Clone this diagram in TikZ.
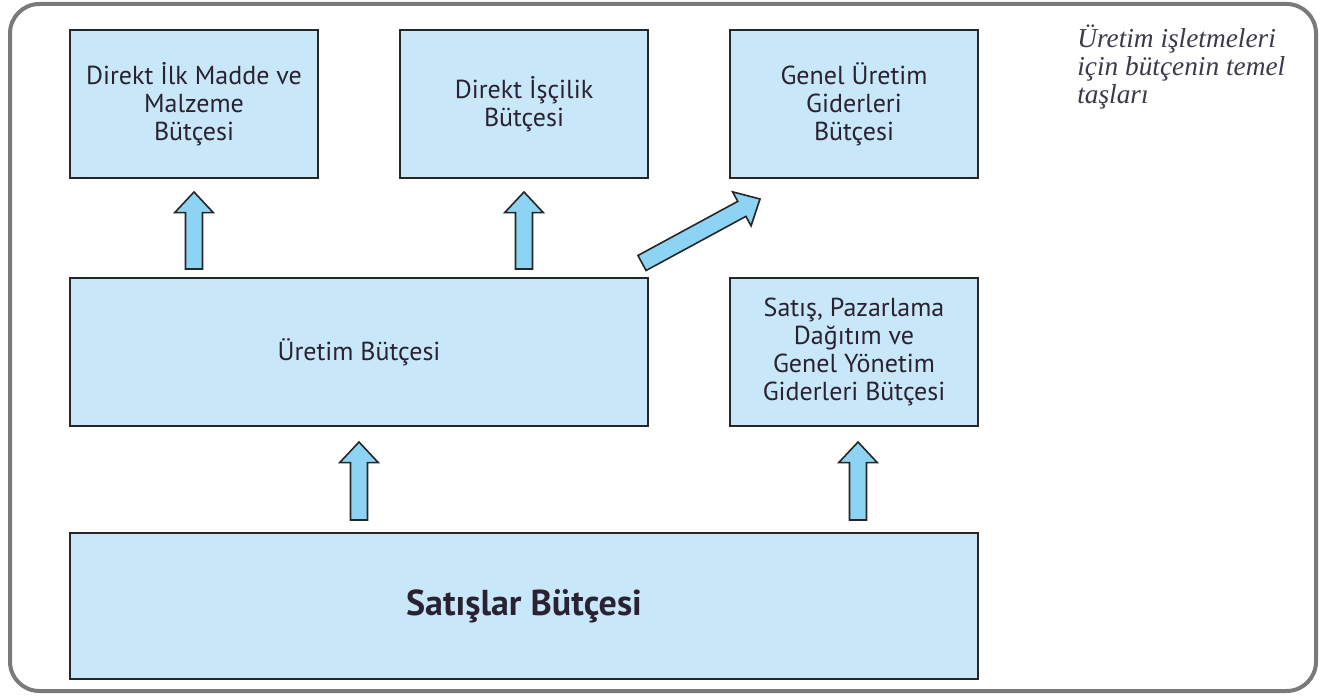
\documentclass[tikz,border=0pt]{standalone}
\usepackage{fontspec}
\setmainfont{PT Sans}
\newfontfamily\notefont{Liberation Serif}
\usetikzlibrary{calc}
\definecolor{boxfill}{HTML}{C8E8F9}
\definecolor{arrfill}{HTML}{8DD4F4}
\definecolor{frame}{HTML}{7A7A7A}
\definecolor{txt}{HTML}{2A2232}
\definecolor{notec}{HTML}{3A3A4A}
\tikzset{
  box/.style={draw=black!85, line width=1.6pt, fill=boxfill, align=center, text=txt,
    font=\fontsize{19.5}{21}\selectfont, inner sep=0pt},
  fat/.style={draw=black!85, line width=1.2pt, fill=arrfill, line join=miter},
}
\newcommand\fatarrow[2]{%
  \coordinate (hb) at ($(#2)!15.5pt!(#1)$);
  \draw[fat] ($(#1)!6.4pt!90:(#2)$) -- ($(hb)!6.4pt!90:(#2)$) -- ($(hb)!14.5pt!90:(#2)$)
    -- (#2) -- ($(hb)!14.5pt!-90:(#2)$) -- ($(hb)!6.4pt!-90:(#2)$) -- ($(#1)!6.4pt!-90:(#2)$) -- cycle;}
\begin{document}
\begin{tikzpicture}[x=0.75pt,y=-0.75pt]
\useasboundingbox (0,0) rectangle (1322,699);
\draw[frame, line width=3pt, rounded corners=22pt] (10,4) rectangle (1316,691);
% boxes
\node[box, minimum width=186pt, minimum height=111pt] (dim) at (194,104) {Direkt İlk Madde ve\\Malzeme\\Bütçesi};
\node[box, minimum width=186pt, minimum height=111pt] (dis) at (524,104) {Direkt İşçilik\\Bütçesi};
\node[box, minimum width=186pt, minimum height=111pt] (gug) at (854,104) {Genel Üretim\\Giderleri\\Bütçesi};
\node[box, minimum width=433.5pt, minimum height=111pt] (ure) at (359,352) {Üretim Bütçesi};
\node[box, minimum width=186pt, minimum height=111pt] (spd) at (854,352) {Satış, Pazarlama\\Dağıtım ve\\Genel Yönetim\\Giderleri Bütçesi};
\node[box, minimum width=681pt, minimum height=110pt] (sat) at (524,606) {\fontsize{27}{30}\selectfont\bfseries Satışlar Bütçesi};
% note
\node[anchor=north west, align=left, text=notec, inner sep=0pt,
  font=\notefont\itshape\fontsize{20.5}{21}\selectfont] (note) at (1077,25)
  {Üretim işletmeleri\\için bütçenin temel\\taşları};
% arrow end points
\coordinate (a1t) at (194,269); \coordinate (a1h) at (194,192);
\coordinate (a2t) at (524,269); \coordinate (a2h) at (524,192);
\coordinate (a3t) at (359,520); \coordinate (a3h) at (359,442);
\coordinate (a4t) at (858,520); \coordinate (a4h) at (858,442);
\coordinate (a5t) at (642,263); \coordinate (a5h) at (760,199);
\fatarrow{a1t}{a1h}
\fatarrow{a2t}{a2h}
\fatarrow{a3t}{a3h}
\fatarrow{a4t}{a4h}
\fatarrow{a5t}{a5h}
\end{tikzpicture}
\end{document}
